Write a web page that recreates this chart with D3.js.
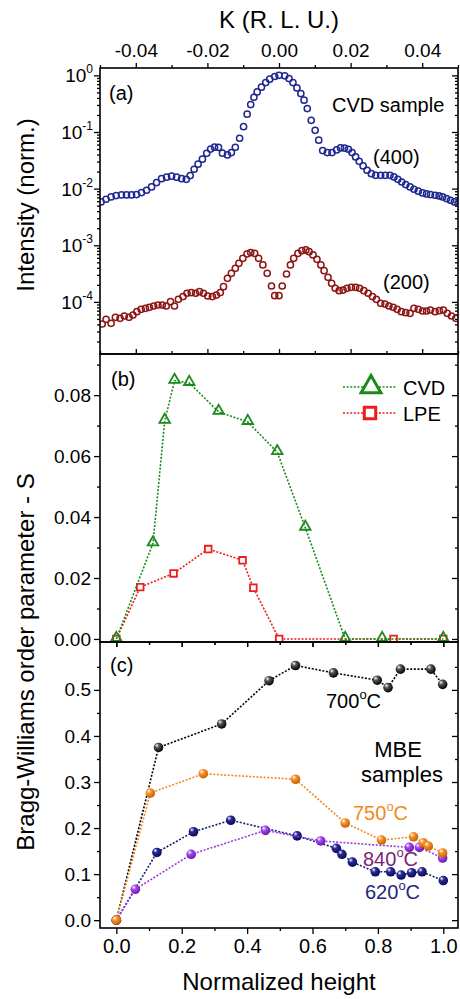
<!DOCTYPE html>
<html><head><meta charset="utf-8">
<script src="https://cdn.jsdelivr.net/npm/d3@7"></script>
<style>body{margin:0;background:#fff} svg text{font-family:"Liberation Sans",Arial,Helvetica,sans-serif}</style>
</head><body><svg id="c" width="460" height="999"></svg>
<script>
// ---------- data ----------
const kBlue = [-0.0497,-0.0483,-0.0469,-0.0455,-0.0440,-0.0426,-0.0412,-0.0398,-0.0384,-0.0370,-0.0356,-0.0342,-0.0328,-0.0314,-0.0300,-0.0286,-0.0272,-0.0259,-0.0248,-0.0237,-0.0226,-0.0214,-0.0202,-0.0191,-0.0180,-0.0169,-0.0158,-0.0144,-0.0133,-0.0122,-0.0110,-0.0099,-0.0089,-0.0079,-0.0070,-0.0061,-0.0049,-0.0037,-0.0026,-0.0012,0.0000,0.0016,0.0028,0.0039,0.0050,0.0061,0.0070,0.0079,0.0090,0.0101,0.0111,0.0122,0.0135,0.0148,0.0161,0.0172,0.0183,0.0194,0.0204,0.0214,0.0224,0.0235,0.0246,0.0258,0.0270,0.0284,0.0297,0.0310,0.0321,0.0332,0.0343,0.0354,0.0366,0.0377,0.0389,0.0401,0.0412,0.0423,0.0436,0.0447,0.0457,0.0468,0.0479,0.0490,0.0500];
const iBlue = [0.00582,0.00649,0.00713,0.00753,0.00774,0.00774,0.00774,0.00785,0.00851,0.00936,0.0107,0.0128,0.0150,0.0159,0.0166,0.0159,0.0150,0.0146,0.0170,0.0220,0.0270,0.0331,0.0420,0.0500,0.0540,0.0535,0.0422,0.0394,0.0433,0.0538,0.0776,0.124,0.206,0.305,0.411,0.511,0.618,0.747,0.855,0.954,1.0,0.98,0.879,0.747,0.601,0.477,0.364,0.259,0.161,0.107,0.0716,0.0469,0.0433,0.0433,0.0483,0.0524,0.0520,0.0496,0.0433,0.0363,0.0304,0.0252,0.0211,0.0184,0.0172,0.0172,0.0172,0.0172,0.0161,0.0146,0.0131,0.0118,0.0107,0.00975,0.0090,0.0084,0.00806,0.00785,0.00764,0.00743,0.00713,0.00667,0.00623,0.00582,0.00552];
const kRed = [-0.0494,-0.0483,-0.0469,-0.0457,-0.0444,-0.0432,-0.0419,-0.0408,-0.0397,-0.0385,-0.0373,-0.0362,-0.0350,-0.0338,-0.0326,-0.0315,-0.0303,-0.0292,-0.0281,-0.0268,-0.0257,-0.0245,-0.0233,-0.0222,-0.0211,-0.0199,-0.0186,-0.0175,-0.0164,-0.0155,-0.0144,-0.0133,-0.0122,-0.0112,-0.0101,-0.0089,-0.0079,-0.0068,-0.0057,-0.0045,-0.0033,-0.0021,-0.0012,0.0000,0.0009,0.0021,0.0032,0.0041,0.0053,0.0064,0.0075,0.0084,0.0095,0.0106,0.0117,0.0126,0.0137,0.0147,0.0157,0.0168,0.0179,0.0190,0.0202,0.0214,0.0225,0.0237,0.0249,0.0261,0.0272,0.0284,0.0296,0.0307,0.0319,0.0330,0.0342,0.0354,0.0366,0.0377,0.0389,0.0401,0.0412,0.0423,0.0436,0.0448,0.0459,0.0470,0.0482,0.0494];
const iRed = [4.07e-5,4.92e-5,4.18e-5,5.33e-5,5.13e-5,5.64e-5,5.33e-5,5.87e-5,6.72e-5,7.39e-5,7.69e-5,8.01e-5,8.47e-5,8.81e-5,8.81e-5,8.47e-5,1.01e-4,8.47e-5,1.11e-4,1.24e-4,1.42e-4,1.46e-4,1.42e-4,1.52e-4,1.42e-4,1.27e-4,1.24e-4,1.32e-4,1.46e-4,1.86e-4,2.61e-4,3.20e-4,3.92e-4,4.80e-4,5.89e-4,7.02e-4,7.41e-4,7.21e-4,5.89e-4,4.49e-4,3.20e-4,1.91e-4,1.29e-4,1.29e-4,1.91e-4,3.11e-4,4.49e-4,5.89e-4,7.21e-4,8.04e-4,8.26e-4,7.71e-4,6.74e-4,5.65e-4,4.49e-4,3.56e-4,2.72e-4,2.13e-4,1.74e-4,1.58e-4,1.62e-4,1.74e-4,1.81e-4,1.81e-4,1.74e-4,1.58e-4,1.42e-4,1.24e-4,1.11e-4,9.44e-5,9.18e-5,8.47e-5,8.01e-5,7.39e-5,6.72e-5,6.45e-5,6.28e-5,7.69e-5,7.39e-5,6.90e-5,6.90e-5,7.19e-5,6.72e-5,7.00e-5,7.19e-5,6.28e-5,5.64e-5,5.13e-5];

const hCVD = [0, 0.112, 0.148, 0.178, 0.223, 0.313, 0.402, 0.492, 0.578, 0.700, 0.813, 1.0];
const sCVD = [0, 0.0314, 0.0716, 0.0847, 0.0840, 0.0745, 0.0712, 0.0613, 0.0365, 0, 0, 0];
const hLPE = [0, 0.073, 0.175, 0.281, 0.386, 0.419, 0.498, 0.848, 1.0];
const sLPE = [0, 0.0170, 0.0215, 0.0295, 0.0258, 0.0168, 0, 0, 0];

const h700 = [0, 0.129, 0.322, 0.467, 0.548, 0.664, 0.798, 0.831, 0.869, 0.962, 0.998];
const s700 = [0, 0.375, 0.426, 0.520, 0.553, 0.537, 0.521, 0.505, 0.545, 0.545, 0.512];
const h750 = [0, 0.104, 0.266, 0.548, 0.700, 0.811, 0.909, 0.939, 0.954, 0.998];
const s750 = [0, 0.276, 0.318, 0.306, 0.211, 0.174, 0.181, 0.168, 0.161, 0.146];
const h620 = [0, 0.124, 0.236, 0.350, 0.553, 0.673, 0.690, 0.722, 0.792, 0.839, 0.871, 0.903, 0.935, 1.0];
const s620 = [0, 0.147, 0.192, 0.217, 0.183, 0.156, 0.143, 0.126, 0.105, 0.105, 0.098, 0.103, 0.105, 0.086];
const h840 = [0, 0.058, 0.229, 0.456, 0.625, 0.896, 0.927, 0.998];
const s840 = [0, 0.067, 0.143, 0.195, 0.172, 0.158, 0.158, 0.135];

const kTicks = [-0.04, -0.02, 0.00, 0.02, 0.04];
const kMinor = [-0.05, -0.03, -0.01, 0.01, 0.03, 0.05];
const logTicks = [1, 0.1, 0.01, 0.001, 0.0001];
const sTicksB = [0.00, 0.02, 0.04, 0.06, 0.08];
const sMinorB = [0.01, 0.03, 0.05, 0.07, 0.09];
const sTicksC = [0.0, 0.1, 0.2, 0.3, 0.4, 0.5];
const sMinorC = [0.05, 0.15, 0.25, 0.35, 0.45, 0.55];
const hTicks = [0.0, 0.2, 0.4, 0.6, 0.8, 1.0];
const hMinor = [0.1, 0.3, 0.5, 0.7, 0.9];

// ---------- layout ----------
const svg = d3.select("#c");
const FONT = '"Liberation Sans",Arial,Helvetica,sans-serif';
const L = 100, R = 458, A0 = 68, A1 = 354, B1 = 642, C1 = 928;
const xK = d3.scaleLinear([-0.05, 0.05], [L, R]);
const xH = d3.scaleLinear([-0.05, 1.045], [L, R]);
const yA = d3.scaleLog([Math.pow(10, -4.92), Math.pow(10, 0.13)], [A1, A0]);
const yB = d3.scaleLinear([-0.001, 0.0935], [B1, A1]);
const yC = d3.scaleLinear([-0.017, 0.604], [C1, B1]);

const defs = svg.append("defs");
[["clipA", A0, A1], ["clipB", A1, B1], ["clipC", B1, C1]].forEach(([id, t, b]) => {
  defs.append("clipPath").attr("id", id).append("rect").attr("x", L).attr("y", t).attr("width", R - L).attr("height", b - t);
});
function sphere(id, col, dark) {
  const g = defs.append("radialGradient").attr("id", id).attr("cx", "40%").attr("cy", "35%").attr("r", "65%").attr("fx", "32%").attr("fy", "28%");
  g.append("stop").attr("offset", "0%").attr("stop-color", "#ffffff");
  g.append("stop").attr("offset", "35%").attr("stop-color", col);
  g.append("stop").attr("offset", "100%").attr("stop-color", dark);
}
sphere("g700", "#555555", "#000000");
sphere("g750", "#f7962e", "#c65f00");
sphere("g620", "#2a2a9a", "#0a0a50");
sphere("g840", "#a84cf0", "#6a16b0");

function axis(gen, vals, size, fmt, tr, pad) {
  const g = svg.append("g").attr("transform", tr)
    .call(gen.tickValues(vals).tickSize(size).tickSizeOuter(0).tickPadding(pad || 3).tickFormat(fmt || (() => "")));
  g.select(".domain").remove();
  g.selectAll("line").attr("stroke", "#000").attr("stroke-width", 1.3);
  g.selectAll("text").attr("font-size", 19).attr("fill", "#000").attr("font-family", FONT);
  return g;
}

// ---- panel a axes ----
const logMinor = [];
for (let d = -5; d <= -1; d++) for (let m = 2; m <= 9; m++) {
  const v = m * Math.pow(10, d);
  if (v > yA.domain()[0] && v < yA.domain()[1]) logMinor.push(v);
}
axis(d3.axisLeft(yA), logTicks, 6, null, `translate(${L},0)`);
axis(d3.axisLeft(yA), logMinor, 3, null, `translate(${L},0)`);
axis(d3.axisRight(yA), logTicks, -6, null, `translate(${R},0)`);
axis(d3.axisRight(yA), logMinor, -3, null, `translate(${R},0)`);
axis(d3.axisTop(xK), kTicks, 5, d3.format(".2f"), `translate(0,${A0})`, 6)
  .selectAll("text").text(d => d3.format(".2f")(d).replace("−", "-"));
axis(d3.axisTop(xK), kMinor, 3, null, `translate(0,${A0})`);
axis(d3.axisBottom(xK), kTicks, -5, null, `translate(0,${A1})`);
axis(d3.axisBottom(xK), kMinor, -3, null, `translate(0,${A1})`);
logTicks.forEach(v => {
  const e = Math.round(Math.log10(v));
  const t = svg.append("text").attr("x", L - 7).attr("y", yA(v) + 7).attr("text-anchor", "end")
    .attr("font-size", 19).attr("font-family", FONT);
  t.append("tspan").text("10");
  t.append("tspan").attr("font-size", 12).attr("dy", -9).text(e === 0 ? "0" : String(e));
});

// ---- panel b axes ----
axis(d3.axisLeft(yB), sTicksB, 6, d3.format(".2f"), `translate(${L},0)`);
axis(d3.axisLeft(yB), sMinorB.filter(v => v < 0.0935), 3, null, `translate(${L},0)`);
axis(d3.axisRight(yB), sTicksB, -6, null, `translate(${R},0)`);
axis(d3.axisRight(yB), sMinorB.filter(v => v < 0.0935), -3, null, `translate(${R},0)`);
axis(d3.axisBottom(xH), hTicks, 5, null, `translate(0,${B1})`);
axis(d3.axisBottom(xH), hMinor, 3, null, `translate(0,${B1})`);

// ---- panel c axes ----
axis(d3.axisLeft(yC), sTicksC, 6, d3.format(".1f"), `translate(${L},0)`);
axis(d3.axisLeft(yC), sMinorC.filter(v => v < 0.604), 3, null, `translate(${L},0)`);
axis(d3.axisRight(yC), sTicksC, -6, null, `translate(${R},0)`);
axis(d3.axisRight(yC), sMinorC.filter(v => v < 0.604), -3, null, `translate(${R},0)`);
axis(d3.axisTop(xH), hTicks, -5, null, `translate(0,${B1})`);
axis(d3.axisTop(xH), hMinor, -3, null, `translate(0,${B1})`);
axis(d3.axisBottom(xH), hTicks, 6, d3.format(".1f"), `translate(0,${C1})`, 5).selectAll("text").attr("font-size", 20);
axis(d3.axisBottom(xH), hMinor, 3, null, `translate(0,${C1})`);

// ---------- panel a data ----------
const gA = svg.append("g").attr("clip-path", "url(#clipA)");
gA.selectAll("circle.b").data(kBlue.map((k, i) => [k, iBlue[i]])).join("circle")
  .attr("cx", d => xK(d[0])).attr("cy", d => yA(d[1])).attr("r", 3.1)
  .attr("fill", "none").attr("stroke", "#1f2790").attr("stroke-width", 1.5);
gA.selectAll("circle.r").data(kRed.map((k, i) => [k, iRed[i]])).join("circle")
  .attr("cx", d => xK(d[0])).attr("cy", d => yA(d[1])).attr("r", 3.1)
  .attr("fill", "none").attr("stroke", "#8c1616").attr("stroke-width", 1.5);

// ---------- panel b data ----------
const gB = svg.append("g").attr("clip-path", "url(#clipB)");
const lineB = d3.line().x(d => xH(d[0])).y(d => yB(d[1]));
const lpe = hLPE.map((h, i) => [h, sLPE[i]]);
const cvd = hCVD.map((h, i) => [h, sCVD[i]]);
gB.append("path").attr("d", lineB(lpe)).attr("fill", "none").attr("stroke", "#ee1c1c").attr("stroke-width", 1.6).attr("stroke-dasharray", "2,1.6");
gB.selectAll("path.sq").data(lpe).join("path").attr("class", "sq")
  .attr("d", d3.symbol(d3.symbolSquare, 44)()).attr("transform", d => `translate(${xH(d[0])},${yB(d[1])})`)
  .attr("fill", "#fff").attr("stroke", "#ee1c1c").attr("stroke-width", 1.8);
gB.append("path").attr("d", lineB(cvd)).attr("fill", "none").attr("stroke", "#1a8a1a").attr("stroke-width", 1.6).attr("stroke-dasharray", "2,1.6");
gB.selectAll("path.tr").data(cvd).join("path").attr("class", "tr")
  .attr("d", d3.symbol(d3.symbolTriangle, 48)()).attr("transform", d => `translate(${xH(d[0])},${yB(d[1]) - 1})`)
  .attr("fill", "none").attr("stroke", "#1a8a1a").attr("stroke-width", 1.8);

// legend
svg.append("line").attr("x1", 343).attr("x2", 397).attr("y1", 387).attr("y2", 387).attr("stroke", "#1a8a1a").attr("stroke-width", 1.6).attr("stroke-dasharray", "2,1.6");
svg.append("path").attr("d", d3.symbol(d3.symbolTriangle, 170)()).attr("transform", "translate(371,387)")
  .attr("fill", "#fff").attr("stroke", "#1a8a1a").attr("stroke-width", 3);
svg.append("text").attr("x", 403).attr("y", 395).attr("font-size", 20).text("CVD");
svg.append("line").attr("x1", 343).attr("x2", 397).attr("y1", 413).attr("y2", 413).attr("stroke", "#ee1c1c").attr("stroke-width", 1.6).attr("stroke-dasharray", "2,1.6");
svg.append("path").attr("d", d3.symbol(d3.symbolSquare, 130)()).attr("transform", "translate(370,413)")
  .attr("fill", "#fff").attr("stroke", "#ee1c1c").attr("stroke-width", 3);
svg.append("text").attr("x", 403).attr("y", 421).attr("font-size", 20).text("LPE");

// ---------- panel c data ----------
const gC = svg.append("g").attr("clip-path", "url(#clipC)");
const lineC = d3.line().x(d => xH(d[0])).y(d => yC(d[1]));
[[h700, s700, "#000000", "g700"], [h620, s620, "#1c1c78", "g620"], [h840, s840, "#9a3be0", "g840"], [h750, s750, "#f08a1c", "g750"]]
  .forEach(([hs, ss, col, grad]) => {
    const pts = hs.map((h, i) => [h, ss[i]]);
    gC.append("path").attr("d", lineC(pts)).attr("fill", "none").attr("stroke", col).attr("stroke-width", 1.6).attr("stroke-dasharray", "2,1.6");
    gC.selectAll(null).data(pts).join("circle").attr("cx", d => xH(d[0])).attr("cy", d => yC(d[1])).attr("r", 4.8)
      .attr("fill", `url(#${grad})`);
  });

// ---------- frames ----------
[[A0, A1], [A1, B1], [B1, C1]].forEach(([t, b]) => {
  svg.append("rect").attr("x", L).attr("y", t).attr("width", R - L).attr("height", b - t)
    .attr("fill", "none").attr("stroke", "#000").attr("stroke-width", 1.6);
});

// ---------- text ----------
function txt(x, y, s, size, col, anchor) {
  return svg.append("text").attr("x", x).attr("y", y).attr("font-size", size).attr("fill", col || "#000")
    .attr("text-anchor", anchor || "start").text(s);
}
function degText(x, y, num, col) {
  const t = svg.append("text").attr("x", x).attr("y", y).attr("font-size", 20).attr("fill", col);
  t.append("tspan").text(num);
  t.append("tspan").attr("font-size", 13).attr("dy", -9).text("o");
  t.append("tspan").attr("dy", 9).text("C");
}
txt(109, 100, "(a)", 20);
txt(332, 112, "CVD sample", 20);
txt(373, 164, "(400)", 20);
txt(383, 289, "(200)", 20);
txt(111, 386, "(b)", 20);
txt(110, 672, "(c)", 20);
degText(326, 708, "700", "#000");
txt(398, 757, "MBE", 22, "#000", "middle");
txt(402, 782, "samples", 22, "#000", "middle");
degText(353, 820, "750", "#f08a1c");
degText(363, 866, "840", "#7b2477");
degText(365, 899, "620", "#262680");

txt(279, 28, "K (R. L. U.)", 24, "#000", "middle");
txt(279, 990, "Normalized height", 24, "#000", "middle");
svg.append("text").attr("transform", "translate(34,205) rotate(-90)").attr("text-anchor", "middle").attr("font-size", 24).text("Intensity (norm.)");
svg.append("text").attr("transform", "translate(34,662) rotate(-90)").attr("text-anchor", "middle").attr("font-size", 24).text("Bragg-Williams order parameter - S");
svg.selectAll("text").attr("font-family", FONT);
</script></body></html>
